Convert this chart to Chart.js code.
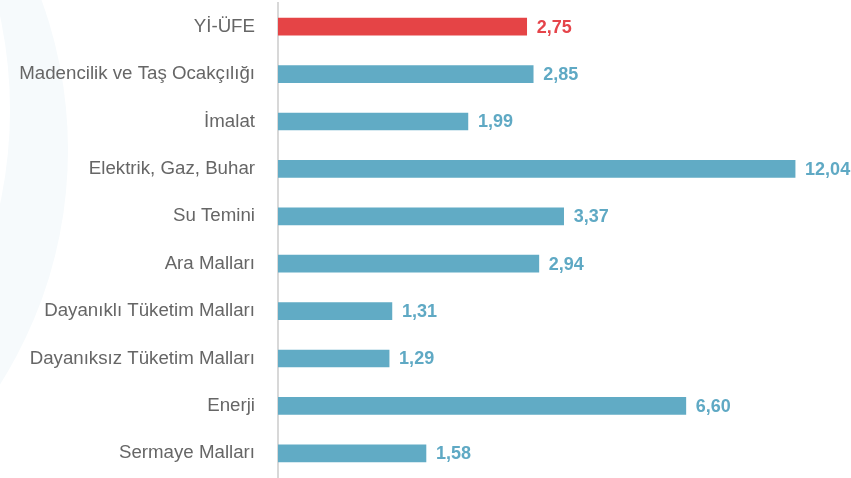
<!DOCTYPE html>
<html>
<head>
<meta charset="utf-8">
<script src="https://cdn.jsdelivr.net/npm/chart.js@4/dist/chart.umd.min.js"></script>
<style>
  html, body { margin: 0; padding: 0; background: #fff; }
  #wrap { width: 851px; height: 478px; position: relative; }
</style>
</head>
<body>
<div id="wrap"><canvas id="ppiChart"></canvas></div>
<script>
const categories = [
    "Yİ-ÜFE",
    "Madencilik ve Taş Ocakçılığı",
    "İmalat",
    "Elektrik, Gaz, Buhar",
    "Su Temini",
    "Ara Malları",
    "Dayanıklı Tüketim Malları",
    "Dayanıksız Tüketim Malları",
    "Enerji",
    "Sermaye Malları",
];
const values = [2.75, 2.85, 1.99, 12.04, 3.37, 2.94, 1.31, 1.29, 6.60, 1.58];

const RED = "#e54446";
const TEAL = "#61abc5";
const barColors = values.map((v, i) => (i === 0 ? RED : TEAL));
const labelColors = values.map((v, i) => (i === 0 ? "#e5444a" : "#5fa9c4"));

// faint decorative ring at the left of the background
const backdrop = {
    id: "backdrop",
    beforeDraw(chart) {
        const ctx = chart.ctx;
        ctx.save();
        ctx.fillStyle = "#f6fafc";
        ctx.beginPath();
        ctx.arc(-370, 150, 438, 0, Math.PI * 2);
        ctx.fill();
        ctx.fillStyle = "#ffffff";
        ctx.beginPath();
        ctx.arc(-440, 110, 450, 0, Math.PI * 2);
        ctx.fill();
        ctx.restore();
    },
};

// value labels next to each bar, Turkish decimal comma
const valueLabels = {
    id: "valueLabels",
    afterDatasetsDraw(chart) {
        const ctx = chart.ctx;
        const meta = chart.getDatasetMeta(0);
        ctx.save();
        ctx.font = "bold 18px 'Liberation Sans', Arial, sans-serif";
        ctx.textBaseline = "middle";
        ctx.textAlign = "left";
        meta.data.forEach((bar, i) => {
            ctx.fillStyle = labelColors[i];
            ctx.fillText(values[i].toFixed(2).replace(".", ","), bar.x + 10, bar.y + 1);
        });
        ctx.restore();
    },
};

new Chart(document.getElementById("ppiChart"), {
    type: "bar",
    data: {
        labels: categories,
        datasets: [{
            data: values,
            backgroundColor: barColors,
            borderWidth: 0,
            barThickness: 17,
        }],
    },
    options: {
        indexAxis: "y",
        responsive: true,
        maintainAspectRatio: false,
        animation: false,
        layout: { padding: { top: 3, bottom: 1, left: 0, right: 55 } },
        plugins: {
            legend: { display: false },
            tooltip: { enabled: false },
        },
        scales: {
            x: {
                type: "logarithmic",
                min: 0.709,
                max: 12.1,
                display: false,
            },
            y: {
                grid: { display: false, drawTicks: true, tickLength: 23, tickColor: "rgba(0,0,0,0)" },
                border: { display: true, color: "#d8d8d8", width: 2 },
                ticks: {
                    color: "#666666",
                    padding: 0,
                    font: { family: "'Liberation Sans', Arial, sans-serif", size: 18.7 },
                },
                afterFit(scale) {
                    scale.width = 278;
                    scale.paddingTop = 0;
                    scale.paddingBottom = 0;
                },
            },
        },
    },
    plugins: [backdrop, valueLabels],
});
</script>
</body>
</html>
